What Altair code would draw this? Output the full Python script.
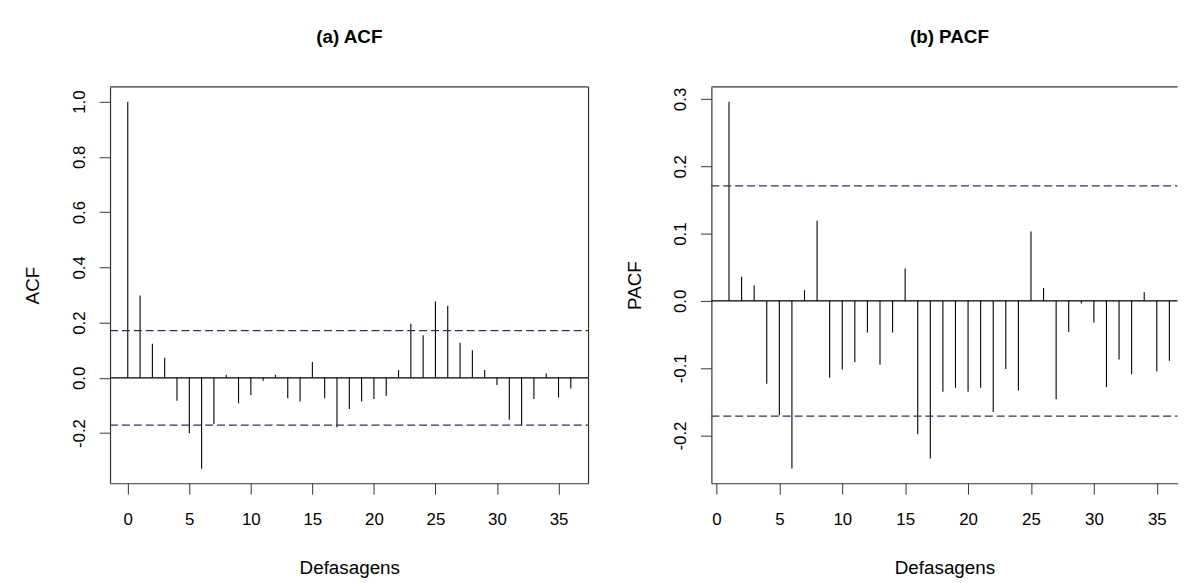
import altair as alt
import pandas as pd

# ---- data ----
acf_lags = list(range(0, 37))
acf_vals = [1.0, 0.298, 0.123, 0.073, -0.083, -0.201, -0.329, -0.167, 0.011, -0.092,
            -0.062, -0.011, 0.011, -0.074, -0.086, 0.057, -0.074, -0.179, -0.113, -0.086,
            -0.077, -0.065, 0.028, 0.196, 0.154, 0.276, 0.261, 0.127, 0.100, 0.028,
            -0.026, -0.152, -0.173, -0.077, 0.016, -0.071, -0.039]
pacf_lags = list(range(1, 37))
pacf_vals = [0.296, 0.036, 0.023, -0.123, -0.170, -0.249, 0.016, 0.119, -0.114, -0.102,
             -0.091, -0.047, -0.095, -0.047, 0.048, -0.198, -0.234, -0.135, -0.129, -0.135,
             -0.129, -0.165, -0.101, -0.133, 0.103, 0.019, -0.146, -0.046, -0.004, -0.032,
             -0.128, -0.087, -0.109, 0.013, -0.105, -0.089]
x_ticks = [0, 5, 10, 15, 20, 25, 30, 35]
acf_y_ticks = [-0.2, 0.0, 0.2, 0.4, 0.6, 0.8, 1.0]
pacf_y_ticks = [-0.2, -0.1, 0.0, 0.1, 0.2, 0.3]
ci_level = 0.171
x_title = "Defasagens"

FONT = "Liberation Sans"
BOX = "#333333"
CI_COLOR = "#2e2e6e"
H = 400


def panel(lags, vals, xdom, ydom, yticks, ytitle, title, width, right_border, title_dx):
    df = pd.DataFrame({"lag": lags, "v": vals})
    one = pd.DataFrame({"k": [0]})
    xs = alt.Scale(domain=xdom, nice=False, zero=False)
    ys = alt.Scale(domain=ydom, nice=False, zero=False)
    x = alt.X("lag:Q", scale=xs, axis=alt.Axis(
        values=x_ticks, format="d", title=x_title, grid=False,
        domain=True, domainColor=BOX, domainWidth=1.2,
        ticks=True, tickColor=BOX, tickSize=11, tickWidth=1,
        labelPadding=18, labelFont=FONT, labelFontSize=17, labelColor="black",
        labelFlush=False, labelOverlap=False,
        titleFont=FONT, titleFontSize=19, titleFontWeight="normal", titleColor="black",
        titleY=91.5, titleBaseline="alphabetic"))
    y = alt.Y("v:Q", scale=ys, axis=alt.Axis(
        values=yticks, title=ytitle, grid=False,
        labelExpr="replace(format(datum.value, '.1f'), '\u2212', '-')",
        domain=True, domainColor=BOX, domainWidth=1.2,
        ticks=True, tickColor=BOX, tickSize=11, tickWidth=1,
        labelPadding=15, labelFont=FONT, labelFontSize=17, labelColor="black",
        labelAngle=270, labelAlign="center", labelBaseline="alphabetic",
        labelFlush=False, labelOverlap=False,
        titleFont=FONT, titleFontSize=19, titleFontWeight="normal", titleColor="black",
        titleAngle=270, titleX=-72, titleY=H / 2, titleAlign="center",
        titleBaseline="alphabetic"))

    bars = alt.Chart(df).mark_rule(color="black", strokeWidth=1.1).encode(
        x=x, y=y, y2=alt.datum(0))
    zero = alt.Chart(one).mark_rule(color="black", strokeWidth=1.1).encode(
        y=alt.datum(0), x=alt.datum(xdom[0]), x2=alt.datum(xdom[1]))
    ci_up = alt.Chart(one).mark_rule(color=CI_COLOR, strokeWidth=1.2, strokeDash=[8, 4]).encode(
        y=alt.datum(ci_level), x=alt.datum(xdom[0]), x2=alt.datum(xdom[1]))
    ci_lo = alt.Chart(one).mark_rule(color=CI_COLOR, strokeWidth=1.2, strokeDash=[8, 4]).encode(
        y=alt.datum(-ci_level), x=alt.datum(xdom[0]), x2=alt.datum(xdom[1]))
    top = alt.Chart(one).mark_rule(color=BOX, strokeWidth=1.2).encode(
        y=alt.datum(ydom[1]), x=alt.datum(xdom[0]), x2=alt.datum(xdom[1]))
    layers = [bars, zero, ci_up, ci_lo, top]
    if right_border:
        right = alt.Chart(one).mark_rule(color=BOX, strokeWidth=1.2).encode(
            x=alt.datum(xdom[1]), y=alt.datum(ydom[0]), y2=alt.datum(ydom[1]))
        layers.append(right)
    return alt.layer(*layers).properties(
        width=width, height=H,
        title=alt.TitleParams(title, font=FONT, fontSize=19, fontWeight="bold",
                              color="black", anchor="middle", offset=40, dx=title_dx))


acf_panel = panel(acf_lags, acf_vals, [-1.44, 37.44], [-0.3816, 1.0532],
                  acf_y_ticks, "ACF", "(a) ACF", 483, True, 0)
pacf_panel = panel(pacf_lags, pacf_vals, [-0.4, 36.647], [-0.2708, 0.3178],
                   pacf_y_ticks, "PACF", "(b) PACF", 470.5, False, 5)

chart = alt.hconcat(acf_panel, pacf_panel, spacing=36).properties(
    padding={"left": 16, "top": 17, "right": 0, "bottom": 0},
    background="white",
).configure_view(stroke=None)

chart.save("out.html", embed_options={"renderer": "svg", "actions": False})
